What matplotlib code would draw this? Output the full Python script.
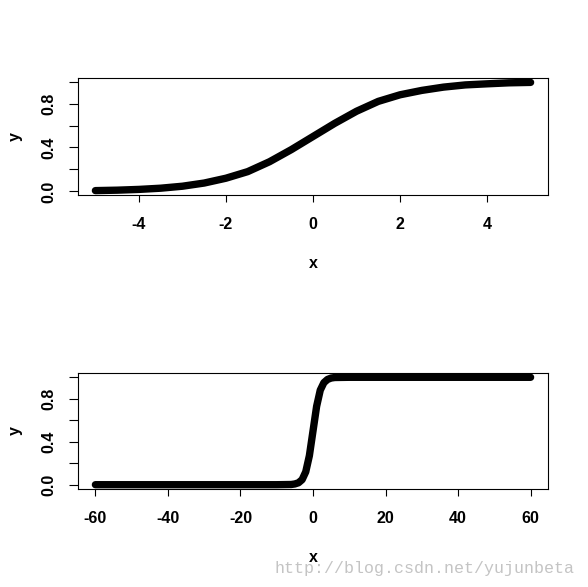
import matplotlib
matplotlib.use("Agg")
import matplotlib.pyplot as plt

# values
x_top = [-5, -4.5, -4, -3.5, -3, -2.5, -2, -1.5, -1, -0.5, 0,
         0.5, 1, 1.5, 2, 2.5, 3, 3.5, 4, 4.5, 5]
y_top = [0.007, 0.011, 0.018, 0.029, 0.047, 0.076, 0.12, 0.18, 0.27, 0.38, 0.5,
         0.62, 0.73, 0.82, 0.88, 0.92, 0.95, 0.97, 0.98, 0.989, 0.993]

x_bot = [-60, -10, -6, -5, -4, -3, -2, -1, 0, 1, 2, 3, 4, 5, 6, 10, 60]
y_bot = [0, 0, 0.002, 0.007, 0.018, 0.047, 0.12, 0.27, 0.5, 0.73, 0.88,
         0.95, 0.98, 0.993, 0.998, 1, 1]

xticks_top = [-4, -2, 0, 2, 4]
xticks_bot = [-60, -40, -20, 0, 20, 40, 60]
yticks = [0.0, 0.2, 0.4, 0.6, 0.8, 1.0]
ytick_labels = ["0.0", "", "0.4", "", "0.8", ""]

W, H = 588, 587
plt.rcParams["font.family"] = ["Liberation Sans", "DejaVu Sans"]
fig = plt.figure(figsize=(W / 100, H / 100), dpi=100)
FS = 11.5


def make_axes(top, bottom, xs, ys, xticks, xlim, ylim):
    ax = fig.add_axes([78 / W, (H - bottom) / H, 470 / W, (bottom - top) / H])
    ax.plot(xs, ys, color="black", lw=5.3, solid_capstyle="round",
            solid_joinstyle="round")
    ax.set_xlim(*xlim)
    ax.set_ylim(*ylim)
    ax.set_xticks(xticks)
    ax.set_xticklabels([str(t) for t in xticks], fontsize=FS, fontweight="bold")
    ax.set_yticks(yticks)
    ax.set_yticklabels(ytick_labels, fontsize=FS, fontweight="bold",
                       rotation=90, va="center")
    ax.tick_params(axis="x", length=5, width=0.8, pad=11)
    ax.tick_params(axis="y", length=6.5, width=0.8, pad=9)
    for s in ax.spines.values():
        s.set_linewidth(0.8)
    # axis titles placed like R's default margins
    fig.text(15 / W, 1 - (top + bottom) / 2 / H, "y", rotation=90,
             ha="center", va="center", fontsize=FS, fontweight="bold")
    return ax


make_axes(78, 195, x_top, y_top, xticks_top, (-5.4, 5.4), (-0.033, 1.033))
fig.text(313 / W, 1 - 264 / H, "x", ha="center", va="center",
         fontsize=FS, fontweight="bold")

make_axes(373, 489, x_bot, y_bot, xticks_bot, (-64.8, 64.8), (-0.04, 1.04))
fig.text(313 / W, 1 - 557 / H, "x", ha="center", va="center",
         fontsize=FS, fontweight="bold")

fig.text(575 / W, 1 - 568 / H, "http://blog.csdn.net/yujunbeta",
         ha="right", va="center", fontsize=12, color="#c4c4c4",
         family="Liberation Mono")

fig.savefig("out.png", dpi=100)
